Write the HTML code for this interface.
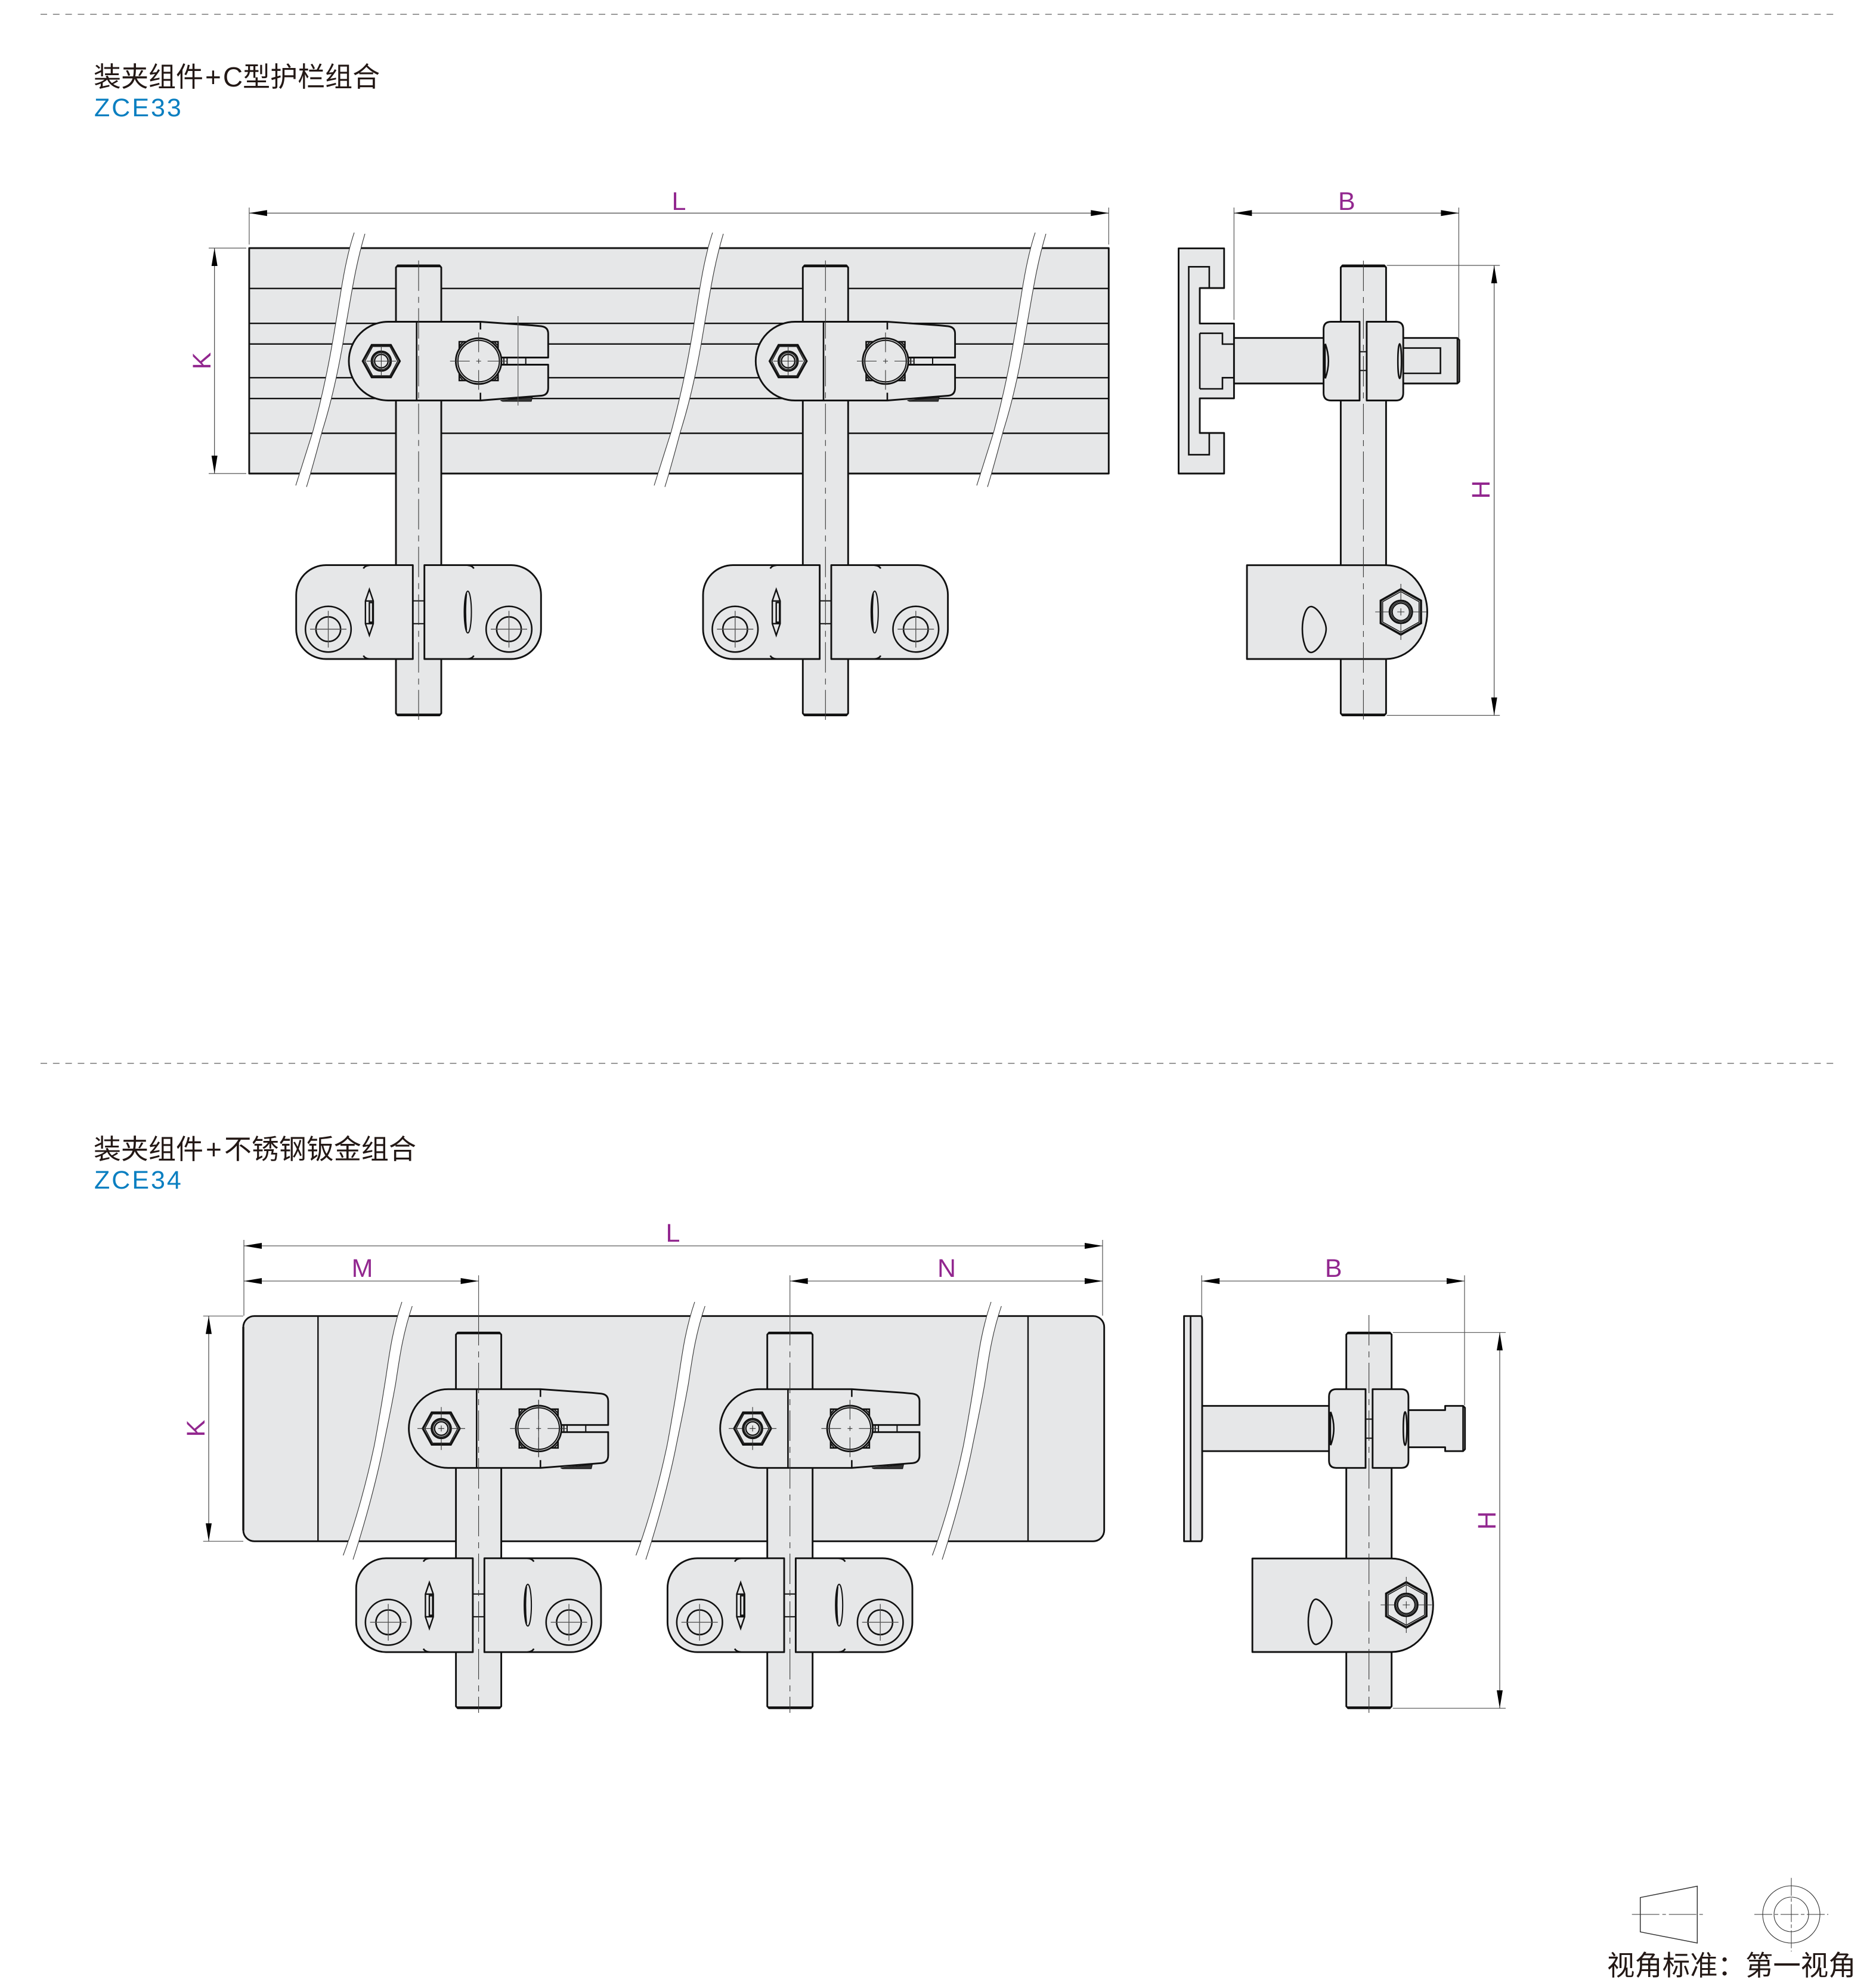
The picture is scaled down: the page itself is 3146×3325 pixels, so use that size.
<!DOCTYPE html>
<html lang="zh"><head><meta charset="utf-8"><title>ZCE33 ZCE34</title>
<style>html,body{margin:0;padding:0;background:#fff}svg{display:block}
.t{font-family:"Liberation Sans","Noto Sans CJK SC",sans-serif;font-size:46px;fill:#231815}
.z{font-family:"Liberation Sans",sans-serif;font-size:43px;fill:#0a7fc1;letter-spacing:3px}
.d{font-family:"Liberation Sans",sans-serif;font-size:43px;fill:#92278f;text-anchor:middle}
.o{fill:#e6e7e8;stroke:#111;stroke-width:2.9;stroke-linejoin:round}
.n{fill:none;stroke:#111;stroke-width:2.6}
.m{fill:none;stroke:#111;stroke-width:2}
.h{fill:none;stroke:#333;stroke-width:1.1}
.c{fill:none;stroke:#333;stroke-width:1.1;stroke-dasharray:51 10 10 9}
.e{fill:none;stroke:#555;stroke-width:1.2}
.w{fill:none;stroke:#333;stroke-width:1.1}
</style></head><body>
<svg xmlns="http://www.w3.org/2000/svg" width="3146" height="3325" viewBox="0 0 3146 3325">
<defs>
<g id="hexf"><polygon class="n" style="stroke-width:3.4" points="31,0 16,27 -16,27 -31,0 -16,-27 16,-27"/><polygon class="m" style="stroke-width:1.5" points="27.5,0 14.5,24.5 -14.5,24.5 -27.5,0 -14.5,-24.5 14.5,-24.5"/><circle class="n" style="stroke-width:3" r="16.3"/><circle class="m" style="stroke-width:1.3" r="14"/><circle class="m" style="stroke-width:2.3" r="11.3"/></g>
<g id="hexp"><polygon class="n" style="stroke-width:3.6" points="0,-38 33.8,-19 33.8,19 0,38 -33.8,19 -33.8,-19"/><polygon class="m" style="stroke-width:1.5" points="0,-34 30.5,-17 30.5,17 0,34 -30.5,17 -30.5,-17"/><circle class="n" style="stroke-width:3" r="19"/><circle class="m" style="stroke-width:1.3" r="16.5"/><circle class="m" r="14.5"/><path class="h" d="M-43 0H-20M-6 0H6M20 0H43M0 -47V-20M0 -6V6M0 20V47"/></g>
<g id="xa"><path class="h" d="M-25 0H25M0 -25V25"/></g>
<g id="xb"><path class="h" d="M-40 0H-17M-5 0H5M17 0H40M0 -36V-17M0 -5V5M0 17V36"/></g>
<g id="uc">
<path fill="#333" stroke="#111" stroke-width="1" d="M137.4 66L190.7 60.5L189 67.5H141Z"/>
<path class="o" d="M-51 -66H103.7L190 -60L205.7 -58.5Q217.3 -57 217.3 -46V-6H138V6H217.3V45Q217.3 57 205.7 58L103.7 66H-51A66 66 0 0 1 -51 -66Z"/>
<path class="n" d="M-3.3 -66V66M103.7 -66V-53M103.7 53V66"/>
<path class="m" d="M143 -6V6M148.4 -6V6M179.7 -6V6"/>
<rect class="n" x="68.2" y="-32.5" width="65" height="65"/>
<path class="m" d="M69 -26L74 -32M127 -32L133 -26M69 26L74 32M127 32L133 26"/>
<circle class="o" cx="100.7" r="38.3"/><circle class="m" cx="100.7" r="34.8"/>
<path class="h" d="M52.7 0H85.7M96.7 0H104.7M115.7 0H148.7M100.7 -48V-15M100.7 -4V4M100.7 15V48"/>
<use href="#hexf" x="-62.6"/>
</g>
<g id="lc">
<rect class="o" x="-9.7" y="-18.8" width="19.4" height="38.2" style="stroke-width:2"/>
<path class="o" d="M-155.3 -78.7H-9.7V78.7H-155.3A50 50 0 0 1 -205.3 28.7V-28.7A50 50 0 0 1 -155.3 -78.7Z"/>
<path class="o" d="M155.3 -78.7H9.7V78.7H155.3A50 50 0 0 0 205.3 28.7V-28.7A50 50 0 0 0 155.3 -78.7Z"/>
<path class="n" d="M-92.6 -73Q-90 -78 -82 -78.5M-92.6 73Q-90 78 -82 78.5M92.6 -73Q90 -78 82 -78.5M92.6 73Q90 78 82 78.5"/>
<circle class="n" cx="-151.5" cy="28.7" r="38.3"/><circle class="n" cx="-151.5" cy="28.7" r="20.7"/>
<circle class="n" cx="151.5" cy="28.7" r="38.3"/><circle class="n" cx="151.5" cy="28.7" r="20.7"/>
<path class="h" d="M-182 28.7H-121M-151.5 -2V59.5M121 28.7H182M151.5 -2V59.5" style="stroke:#555;stroke-width:1.4"/>
<polygon class="m" style="stroke-width:2.4" points="-82.6,-38 -76,-18.6 -76,19.4 -82.6,39 -89.2,19.4 -89.2,-18.6"/>
<path class="m" style="stroke-width:2.4" d="M-89.2 -18.6H-76M-89.2 19.4H-76M-82.6 -16H-77V17H-82.6Z"/>
<ellipse class="m" cx="82.5" rx="6" ry="35"/>
<path class="n" d="M80 -31Q77 0 80 31"/>
</g>
<g id="t1"><path class="o" d="M-38 448.5L-35 445H35L38 448.5V1196L35 1199.5H-35L-38 1196Z"/><path class="n" d="M-36 446.8H36M-36 1197.8H36"/></g>
<g id="t2"><path class="o" d="M-38 2237.8L-35 2234.3H35L38 2237.8V2861L35 2864.3H-35L-38 2861Z"/><path class="n" d="M-36 2236H36M-36 2862.5H36"/></g>
<g id="w1"><path fill="#fff" d="M594 390C580 432 573 480 565 530C557 579 547 640 524.5 724C514 758 504 788 496 814L514 816.4C523 788 532 754 540 724C561 658 573 590 580.6 542.4C590 490 596 446 612 392Z"/><path class="w" d="M594 390C580 432 573 480 565 530C557 579 547 640 524.5 724C514 758 504 788 496 814M514 816.4C523 788 532 754 540 724C561 658 573 590 580.6 542.4C590 490 596 446 612 392"/></g>
<g id="w2"><path fill="#fff" d="M674 2183C658 2230 653 2270 647 2310C638 2368 628 2423 626.5 2429C616 2478 598 2548 575.5 2608L592 2615C614 2548 632 2478 642 2429C646 2408 654 2373 663.3 2321C669 2285 674 2241 691.3 2190Z"/><path class="w" d="M674 2183C658 2230 653 2270 647 2310C638 2368 628 2423 626.5 2429C616 2478 598 2548 575.5 2608M592 2615C614 2548 632 2478 642 2429C646 2408 654 2373 663.3 2321C669 2285 674 2241 691.3 2190"/></g>
<polygon id="al" points="0,0 30,-5 30,5"/>
<polygon id="ar" points="0,0 -30,-5 -30,5"/>
<polygon id="au" points="0,0 -5,30 5,30"/>
<polygon id="ad" points="0,0 -5,-30 5,-30"/>
</defs>

<!-- dashed separators -->
<path d="M68 24H3082" stroke="#999" stroke-width="2" stroke-dasharray="11 9.8" fill="none"/>
<path d="M68 1783H3082" stroke="#999" stroke-width="2" stroke-dasharray="11 9.8" fill="none"/>

<!-- titles -->
<text class="t" x="157" y="145">装夹组件<tspan dx="3">+</tspan><tspan dx="3">C型护栏组合</tspan></text>
<text class="z" x="158" y="195">ZCE33</text>
<text class="t" x="157" y="1943">装夹组件<tspan dx="4">+</tspan><tspan dx="4">不锈钢钣金组合</tspan></text>
<text class="z" x="158" y="1993">ZCE34</text>

<!-- SECTION 1 FRONT -->
<rect class="o" x="417.9" y="416" width="1441.4" height="378"/>
<path class="m" style="stroke-width:2.4" d="M417.9 483.7H1859.3M417.9 542.2H1859.3M417.9 576.8H1859.3M417.9 633.3H1859.3M417.9 668.2H1859.3M417.9 726.5H1859.3"/>
<use href="#w1"/><use href="#w1" x="601"/><use href="#w1" x="1142"/>

<use href="#t1" x="702"/>
<use href="#uc" x="702" y="605.5"/><use href="#xa" x="639.4" y="605.5"/>
<path class="e" d="M868.7 530V680"/>
<use href="#lc" x="702" y="1026.3"/>
<path class="c" d="M702 436.7V1207"/>

<use href="#t1" x="1384.3"/>
<use href="#uc" x="1384.3" y="605.5"/><use href="#xa" x="1321.7" y="605.5"/>
<use href="#lc" x="1384.3" y="1026.3"/>
<path class="c" d="M1384.3 436.7V1207"/>

<!-- section 1 dims -->
<path class="e" d="M417.9 348V410M1859.3 348V410M350 416H413M350 794H413"/>
<path class="h" d="M417.9 357.3H1859.3M359.7 416V794"/>
<use href="#al" x="417.9" y="357.3"/><use href="#ar" x="1859.3" y="357.3"/>
<use href="#au" x="359.7" y="416"/><use href="#ad" x="359.7" y="794"/>
<text class="d" x="1138.5" y="352">L</text>
<text class="d" transform="translate(353 605) rotate(-90)">K</text>

<!-- SECTION 1 SIDE -->
<path class="o" d="M1976.5 416.4H2052.8V483H2012V542.4H2069.4V667.9H2012V726H2052.8V794H1976.5Z"/>
<path class="n" d="M2027.9 483V447.3H1993.5V762.4H2027.9V726M2012 558.8H2050V577H2069.4M2012 652H2050V633.3H2069.4M2012 558.8V652"/>
<rect class="o" x="2069.4" y="566.7" width="155" height="76.3"/>
<use href="#t1" x="2286.4"/>
<path class="o" d="M2350 566.7H2444L2447.2 570V640L2444 643H2350Z"/>
<path class="n" d="M2353 583.6H2415.6V626H2353M2444 567V643"/>
<rect class="o" x="2279" y="589.7" width="13.5" height="31.5" style="stroke-width:2"/>
<path class="o" d="M2280 539.5H2232Q2219.6 539.5 2219.6 552V659Q2219.6 671.5 2232 671.5H2280Z"/>
<path class="o" d="M2291.9 539.5H2341Q2353.2 539.5 2353.2 552V659Q2353.2 671.5 2341 671.5H2291.9Z"/>
<path class="n" d="M2222.5 576.5Q2233 605.5 2222.5 634.5M2222 576.5V634.5"/><ellipse class="n" cx="2347.2" cy="605.5" rx="3" ry="29"/>
<path class="o" d="M2091.1 947.7H2324.3A69.2 78.65 0 0 1 2324.3 1105H2091.1Z"/>
<path class="n" d="M2199 1017C2211 1019 2223.9 1042 2223.9 1054.5C2223.9 1069 2211 1092 2199 1094C2189 1094 2184 1072 2184 1054.5C2184 1038 2189 1017 2199 1017Z"/>
<use href="#hexp" x="2349.2" y="1026"/>
<path class="c" d="M2286.4 437V1206.5"/>
<!-- side dims -->
<path class="e" d="M2069.4 348V536.4M2446.4 348V566.7M2325.5 445H2515.2M2325.5 1199.5H2515.2"/>
<path class="h" d="M2069.4 357.3H2446.4M2505.7 445V1199.5"/>
<use href="#al" x="2069.4" y="357.3"/><use href="#ar" x="2446.4" y="357.3"/>
<use href="#au" x="2505.7" y="445"/><use href="#ad" x="2505.7" y="1199.5"/>
<text class="d" x="2258.3" y="352">B</text>
<text class="d" transform="translate(2498 821) rotate(-90)">H</text>

<!-- SECTION 2 FRONT -->
<rect class="o" x="408" y="2206.7" width="1443.7" height="377.6" rx="18.5"/>
<path class="n" style="stroke-width:3.4" d="M408 2225V2566"/>
<path class="m" style="stroke-width:2.4" d="M533.3 2206.7V2584.3M1724 2206.7V2584.3"/>
<use href="#w2"/><use href="#w2" x="491"/><use href="#w2" x="988"/>

<use href="#t2" x="802.6"/>
<use href="#uc" x="802.6" y="2395.3"/><use href="#xb" x="740" y="2395.3"/>
<path class="h" d="M903.3 2347.3V2443.3"/>
<use href="#lc" x="802.6" y="2691.5"/>
<path class="c" d="M802.6 2205V2872"/>

<use href="#t2" x="1324.7"/>
<use href="#uc" x="1324.7" y="2395.3"/><use href="#xb" x="1262.1" y="2395.3"/>
<use href="#lc" x="1324.7" y="2691.5"/>
<path class="c" d="M1324.7 2205V2872"/>

<!-- section 2 dims -->
<path class="e" d="M409 2079V2206M1849 2079V2206M340.7 2206.7H408M340.7 2584.3H408M802.6 2138.4V2206M1324.7 2138.4V2206"/>
<path class="h" d="M409 2089H1849M409 2148H802.6M1324.7 2148H1849M350 2206.7V2584.3"/>
<use href="#al" x="409" y="2089"/><use href="#ar" x="1849" y="2089"/>
<use href="#al" x="409" y="2148"/><use href="#ar" x="802.6" y="2148"/>
<use href="#al" x="1324.7" y="2148"/><use href="#ar" x="1849" y="2148"/>
<use href="#au" x="350" y="2206.7"/><use href="#ad" x="350" y="2584.3"/>
<text class="d" x="1128.5" y="2082">L</text>
<text class="d" x="607.5" y="2141">M</text>
<text class="d" x="1587.5" y="2141">N</text>
<text class="d" transform="translate(343 2395) rotate(-90)">K</text>

<!-- SECTION 2 SIDE -->
<path class="o" d="M1985.6 2206.7H2013.5Q2016 2206.7 2016 2214V2577Q2016 2584.3 2013.5 2584.3H1985.6Z"/>
<path class="n" d="M1996.6 2206.7V2584.3"/>
<rect class="o" x="2016" y="2357.3" width="214" height="75.9"/>
<use href="#t2" x="2295.7"/>
<path class="o" d="M2358 2364.4H2423.5V2357.3H2453.5L2456.7 2360.5V2430L2453.5 2433.2H2423.5V2426.7H2358Z"/>
<path class="n" d="M2453.5 2357.5V2433"/>
<rect class="o" x="2289" y="2379.5" width="13.5" height="32" style="stroke-width:2"/>
<path class="o" d="M2290 2329.3H2241Q2228.7 2329.3 2228.7 2342V2449Q2228.7 2461.3 2241 2461.3H2290Z"/>
<path class="o" d="M2301.8 2329.3H2350Q2361.9 2329.3 2361.9 2342V2449Q2361.9 2461.3 2350 2461.3H2301.8Z"/>
<path class="n" d="M2231.5 2367.3Q2242 2395.3 2231.5 2423.3M2231 2367.3V2423.3"/><ellipse class="n" cx="2356.3" cy="2395.3" rx="3" ry="28"/>
<path class="o" d="M2100.2 2613.2H2333.3A70 78.4 0 0 1 2333.3 2770H2100.2Z"/>
<path class="n" d="M2207 2681.4C2219 2684 2233.4 2707 2233.4 2719.4C2233.4 2734 2219 2755 2207 2757.3C2199 2757.3 2193.9 2737 2193.9 2719.4C2193.9 2703 2199 2681.4 2207 2681.4Z"/>
<use href="#hexp" x="2358.3" y="2691"/>
<path class="c" d="M2295.7 2205V2872"/>
<!-- side 2 dims -->
<path class="e" d="M2015.2 2138.4V2206M2456 2138.4V2356.2M2335.7 2234.3H2525M2335.7 2864.3H2525"/>
<path class="h" d="M2015.2 2148H2456M2515 2234.3V2864.3"/>
<use href="#al" x="2015.2" y="2148"/><use href="#ar" x="2456" y="2148"/>
<use href="#au" x="2515" y="2234.3"/><use href="#ad" x="2515" y="2864.3"/>
<text class="d" x="2236.2" y="2141">B</text>
<text class="d" transform="translate(2508 2549.5) rotate(-90)">H</text>

<!-- view legend -->
<polygon points="2750.7,3181.7 2846.3,3162.7 2846.3,3258 2750.7,3239.3" fill="none" stroke="#333" stroke-width="1.5"/>
<path d="M2736.7 3210H2860.7" stroke="#333" stroke-width="1" stroke-dasharray="46 5 6 5" fill="none"/>
<circle cx="3004" cy="3210" r="48" fill="none" stroke="#333" stroke-width="1.1"/>
<circle cx="3004" cy="3210" r="29" fill="none" stroke="#333" stroke-width="1.1"/>
<path d="M2942 3210H3066M3004 3148.7V3272.3" stroke="#333" stroke-width="1" stroke-dasharray="30 4 6 4" fill="none"/>
<text class="t" style="font-size:46.4px" x="2695" y="3312">视角标准：第一视角</text>
</svg>
</body></html>
